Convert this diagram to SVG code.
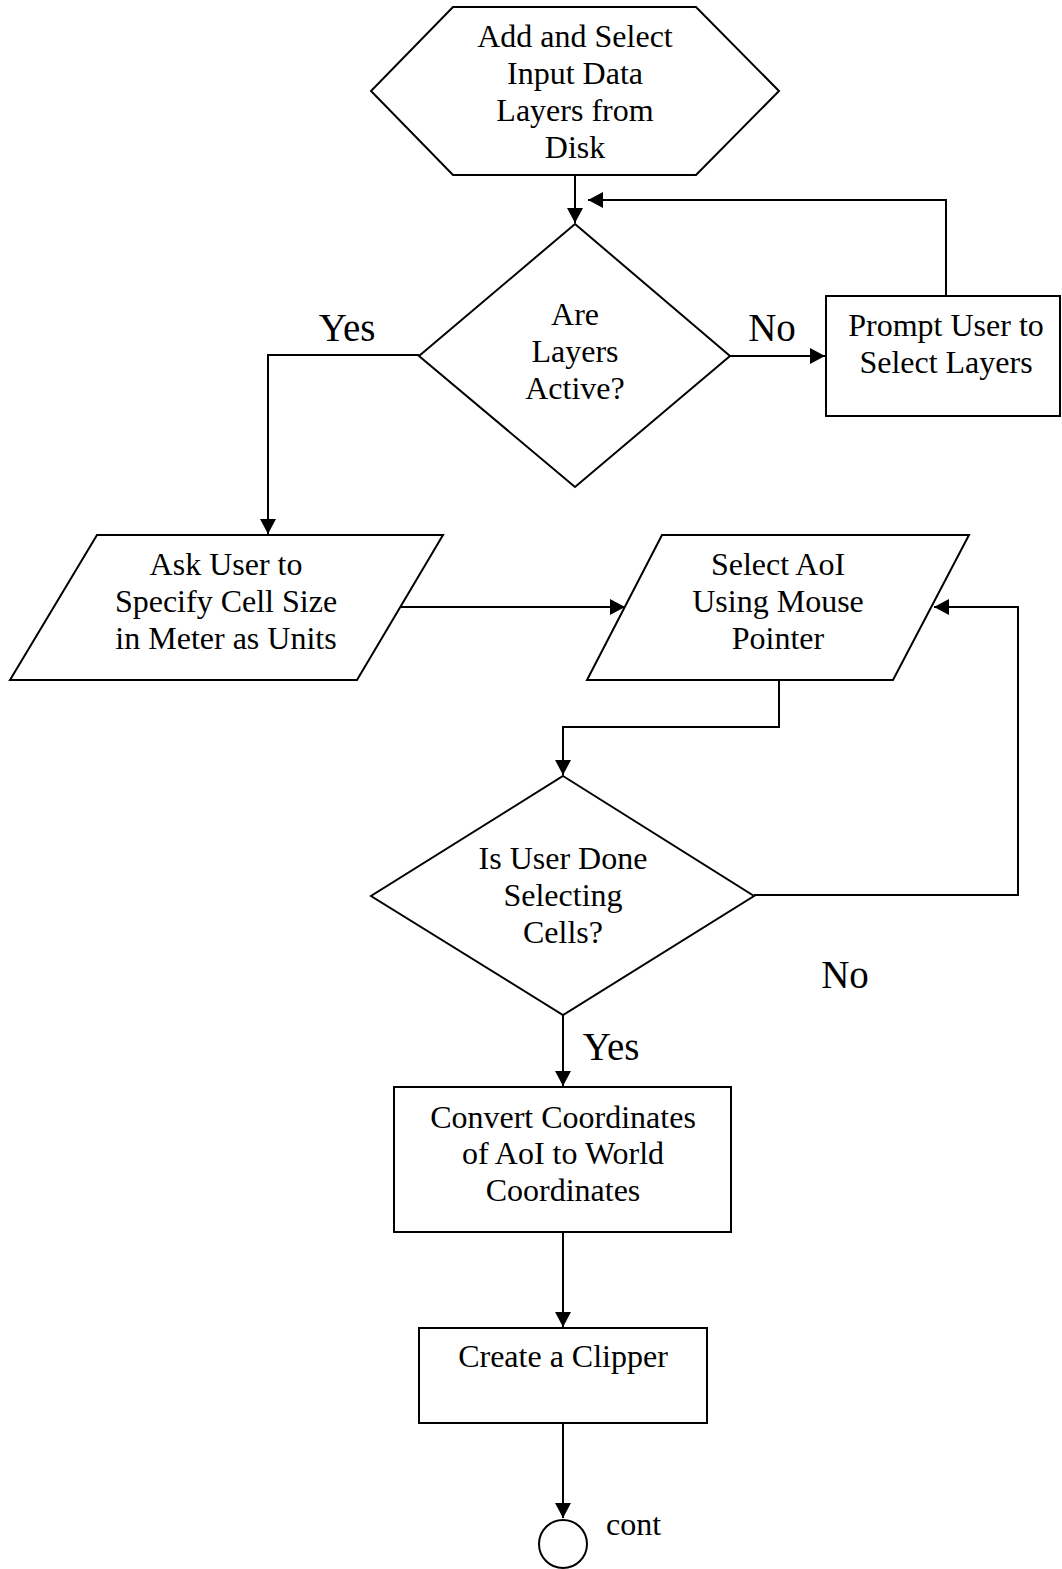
<svg xmlns="http://www.w3.org/2000/svg" width="1062" height="1569" viewBox="0 0 1062 1569">
<style>
.s{fill:#fff;stroke:#000;stroke-width:2}
.c{fill:none;stroke:#000;stroke-width:2}
text{font-family:"Liberation Serif","Times New Roman",serif;font-size:32px;fill:#000}
.m{text-anchor:middle}
.l{font-size:39px}
</style>
<defs>
<marker id="ah" markerUnits="userSpaceOnUse" markerWidth="16" markerHeight="16" refX="15" refY="8" orient="auto" viewBox="0 0 16 16">
<path d="M0,0 L15,8 L0,16 z" fill="#000"/>
</marker>
</defs>
<rect width="1062" height="1569" fill="#fff"/>
<g id="connectors">
<path class="c" d="M575,175 V223" marker-end="url(#ah)"/>
<path class="c" d="M946,296 V200 H588" marker-end="url(#ah)"/>
<path class="c" d="M730,356 H825" marker-end="url(#ah)"/>
<path class="c" d="M419,355 H268 V534" marker-end="url(#ah)"/>
<path class="c" d="M401,607 H625" marker-end="url(#ah)"/>
<path class="c" d="M779,680 V727 H563 V775" marker-end="url(#ah)"/>
<path class="c" d="M754,895 H1018 V607 H934" marker-end="url(#ah)"/>
<path class="c" d="M563,1015 V1086" marker-end="url(#ah)"/>
<path class="c" d="M563,1232 V1327" marker-end="url(#ah)"/>
<path class="c" d="M563,1423 V1518" marker-end="url(#ah)"/>
<text class="m l" x="347" y="341">Yes</text>
<text class="m l" x="772" y="341">No</text>
<text class="m l" x="845" y="988">No</text>
<text class="m l" x="611" y="1060">Yes</text>
</g>
<g id="start">
<polygon class="s" points="453,7 696,7 779,91 696,175 453,175 371,91"/>
<text class="m" x="575" y="47">Add and Select</text>
<text class="m" x="575" y="84">Input Data</text>
<text class="m" x="575" y="121">Layers from</text>
<text class="m" x="575" y="158">Disk</text>
</g>
<g id="layers-active">
<polygon class="s" points="575,224 730,356 575,487 419,356"/>
<text class="m" x="575" y="325">Are</text>
<text class="m" x="575" y="362">Layers</text>
<text class="m" x="575" y="399">Active?</text>
</g>
<g id="prompt">
<rect class="s" x="826" y="296" width="234" height="120"/>
<text class="m" x="946" y="336">Prompt User to</text>
<text class="m" x="946" y="373">Select Layers</text>
</g>
<g id="ask-cell-size">
<polygon class="s" points="97,535 443,535 357,680 10,680"/>
<text class="m" x="226" y="575">Ask User to</text>
<text class="m" x="226" y="612">Specify Cell Size</text>
<text class="m" x="226" y="649">in Meter as Units</text>
</g>
<g id="select-aoi">
<polygon class="s" points="662,535 969,535 893,680 587,680"/>
<text class="m" x="778" y="575">Select AoI</text>
<text class="m" x="778" y="612">Using Mouse</text>
<text class="m" x="778" y="649">Pointer</text>
</g>
<g id="done-selecting">
<polygon class="s" points="563,776 754,896 563,1015 371,896"/>
<text class="m" x="563" y="869">Is User Done</text>
<text class="m" x="563" y="906">Selecting</text>
<text class="m" x="563" y="943">Cells?</text>
</g>
<g id="convert">
<rect class="s" x="394" y="1087" width="337" height="145"/>
<text class="m" x="563" y="1128">Convert Coordinates</text>
<text class="m" x="563" y="1164">of AoI to World</text>
<text class="m" x="563" y="1201">Coordinates</text>
</g>
<g id="clipper">
<rect class="s" x="419" y="1328" width="288" height="95"/>
<text class="m" x="563" y="1367">Create a Clipper</text>
</g>
<g id="cont">
<circle class="s" cx="563" cy="1544" r="24"/>
<text x="606" y="1535">cont</text>
</g>
</svg>
